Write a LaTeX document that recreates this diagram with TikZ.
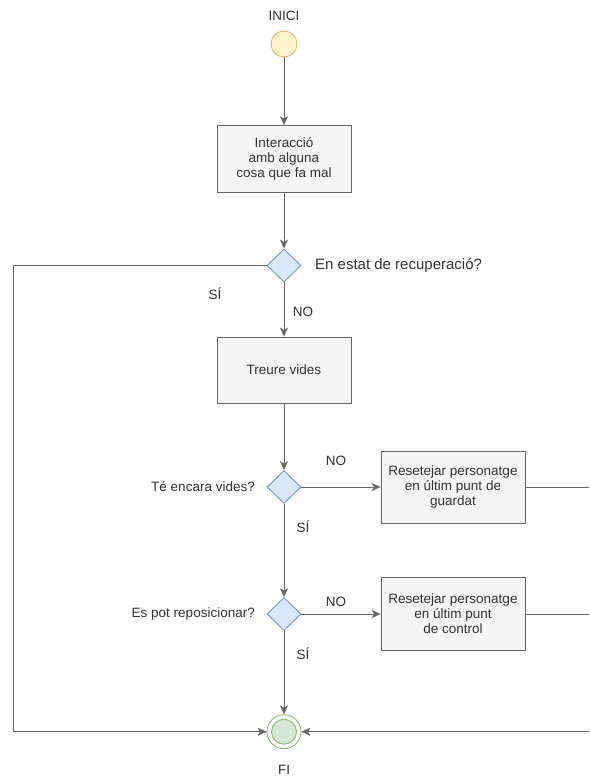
\documentclass[tikz,border=0pt]{standalone}
\usepackage{fontspec}
\setmainfont{Liberation Sans}
\usetikzlibrary{shapes.geometric,arrows.meta}
\definecolor{txt}{HTML}{333333}
\definecolor{edge}{HTML}{666666}
\definecolor{startfill}{HTML}{FFF2CC}
\definecolor{startline}{HTML}{D6B656}
\definecolor{qfill}{HTML}{DAE8FC}
\definecolor{qline}{HTML}{6C8EBF}
\definecolor{boxfill}{HTML}{F5F5F5}
\definecolor{endfill}{HTML}{D5E8D4}
\definecolor{endline}{HTML}{82B366}
\tikzset{
  lbl/.style={text=txt, font=\fontsize{13.5}{15}\selectfont, inner sep=0pt},
  actbox/.style={draw=edge, fill=boxfill, line width=0.8pt, align=center,
    text=txt, font=\fontsize{13.5}{15}\selectfont, inner sep=0pt},
  question/.style={diamond, aspect=1, draw=qline, fill=qfill, line width=0.8pt,
    minimum width=34, minimum height=33, inner sep=0pt},
  flow/.style={draw=edge, line width=0.8pt,
    -{Stealth[length=9pt,width=8pt,inset=2.5pt]}},
  plain/.style={draw=edge, line width=0.8pt},
}
\begin{document}
\begin{tikzpicture}[x=1pt,y=-1pt]
\useasboundingbox (0,0) rectangle (589,776);
\clip (0,0) rectangle (589,776);
\fill[white] (0,0) rectangle (589,776);

% start and end states
\node[lbl] (tinici) at (284,16) {INICI};
\node[circle, draw=startline, fill=startfill, line width=0.8pt,
  minimum size=26, inner sep=0pt] (start) at (284,44) {};
\node[circle, draw=endline, line width=0.8pt, minimum size=34, inner sep=0pt]
  (fin) at (284,731.7) {};
\node[circle, draw=endline, fill=endfill, line width=0.8pt, minimum size=25,
  inner sep=0pt] (finin) at (284,731.7) {};
\node[lbl] (tfi) at (284,770) {FI};

% actions
\node[actbox, minimum width=134, minimum height=67] (hit) at (284,159)
  {Interacció\\amb alguna\\cosa que fa mal};
\node[actbox, minimum width=134, minimum height=66] (lose) at (284,370)
  {Treure vides};
\node[actbox, minimum width=144, minimum height=72] (save) at (453,487)
  {Resetejar personatge\\en últim punt de\\guardat};
\node[actbox, minimum width=144, minimum height=73] (ctrl) at (453,614)
  {Resetejar personatge\\en últim punt\\de control};

% decisions
\node[question] (q1) at (284,265.5) {};
\node[question] (q2) at (284,487) {};
\node[question] (q3) at (284,614) {};
\node[lbl, anchor=west, font=\fontsize{15}{16}\selectfont] (tq1) at (315,266)
  {En estat de recuperació?};
\node[lbl, anchor=east] (tq2) at (255,487) {Té encara vides?};
\node[lbl, anchor=east] (tq3) at (255,614) {Es pot reposicionar?};

% branch labels
\node[lbl] (s1) at (215,294) {SÍ};
\node[lbl] (n1) at (303,312) {NO};
\node[lbl] (n2) at (336,461) {NO};
\node[lbl] (s2) at (303,527) {SÍ};
\node[lbl] (n3) at (336,602) {NO};
\node[lbl] (s3) at (303,654) {SÍ};

% routing points
\coordinate (L) at (13,0);
\coordinate (R) at (600,0);

% connectors
\draw[flow] (start) -- (hit);
\draw[flow] (hit) -- (q1);
\draw[flow] (q1) -- (lose);
\draw[flow] (q1) -- (q1 -| L) |- (fin);
\draw[flow] (lose) -- (q2);
\draw[flow] (q2) -- (save);
\draw[flow] (q2) -- (q3);
\draw[flow] (q3) -- (ctrl);
\draw[flow] (q3) -- (fin);
\draw[plain] (save) -- (save -| R) -- (fin -| R);
\draw[plain] (ctrl) -- (ctrl -| R);
\draw[flow] (fin -| R) -- (fin);
\end{tikzpicture}
\end{document}
